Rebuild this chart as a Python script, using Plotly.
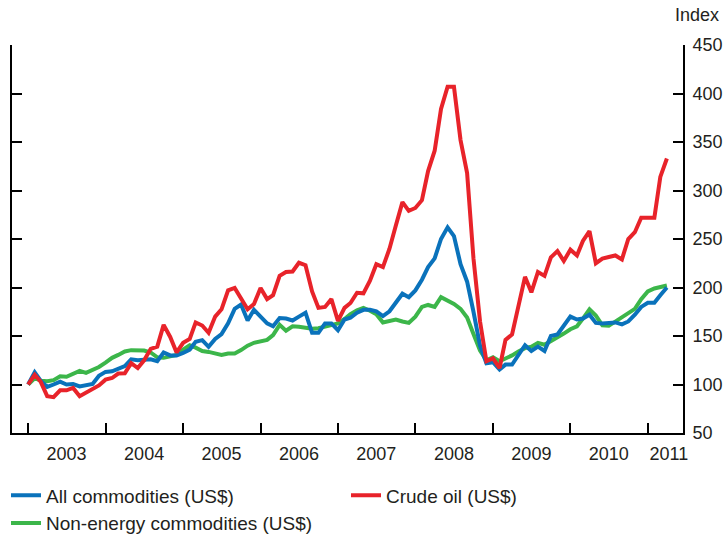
import plotly.graph_objects as go
import pandas as pd

# Monthly index, Jan 2003 = 100 (Jan 2003 .. Apr 2011)
months = pd.date_range("2003-01-01", periods=100, freq="MS")

all_commodities = [
    100, 112.6, 104, 97.5, 100, 103, 100, 100.5, 98, 99, 100.5, 109,
    113, 113.6, 116, 119, 126, 125, 125.5, 126, 124, 133, 130, 130,
    132.5, 136, 144, 145.7, 138.8, 147, 152, 163, 178, 182.5, 166, 177,
    170, 163, 160, 168.5, 168, 166, 170, 174, 153.3, 153.3, 163, 163,
    156, 167, 168.8, 174, 177, 177, 175.5, 170.5, 175.5, 185, 193.6, 190,
    197, 208, 221, 230, 250, 262, 253, 224, 206, 175, 140, 122,
    123, 115.4, 120.5, 120.5, 131, 140.5, 134.5, 139, 134.5, 150, 151.6, 161,
    170, 167, 168, 172, 163.5, 163, 164, 164, 162, 165, 172, 180,
    184.3, 184.3, 192, 200,
]

crude_oil = [
    100, 110, 103, 88, 87, 94, 94, 96.5, 88, 92, 95, 99,
    105, 106.7, 111.3, 111.5, 122, 117, 125, 136.8, 139, 161.5, 149, 133,
    143, 147, 164, 160.8, 153.3, 170, 177.5, 197, 199.5, 188, 177.5, 183,
    199.5, 188, 192, 212, 216, 216.5, 225.5, 223, 196, 179, 180, 188,
    165.5, 179, 184, 194.6, 194, 207, 224, 221, 240, 264, 288, 279,
    282, 290, 320, 341, 384, 407, 407, 352, 318, 230, 165, 124,
    127, 117, 146, 151.6, 182, 211, 195, 216, 212, 231, 237.6, 227.3,
    239, 233, 248, 258, 225, 229.8, 231.5, 233, 229, 250, 257, 272,
    272, 272, 314, 333,
]

non_energy = [
    100, 106.5, 104, 103.3, 104.5, 108.5, 108, 110.5, 114, 112, 114.5, 118,
    122.5, 127.5, 130.5, 134, 135.4, 135.4, 135, 133, 128, 127.5, 129, 130.5,
    136, 140.5, 138, 134.5, 133.6, 132, 130.5, 132, 132, 135.5, 140, 143,
    145, 146, 151, 161.5, 155.5, 160, 159.5, 158.5, 157.5, 158, 160, 161.5,
    163, 167.5, 172.5, 176.5, 179, 176, 172.5, 164, 165, 167, 165, 163.5,
    170, 180, 182, 180, 190, 187, 183, 178, 169, 152, 135, 125,
    128, 124, 126.5, 130, 134, 137.5, 139, 143, 141, 144.5, 148.5, 152.5,
    157, 160, 168, 177.5, 171, 161, 160.5, 165, 170, 174, 178, 188,
    196, 199, 200, 202,
]

years = [2003, 2004, 2005, 2006, 2007, 2008, 2009, 2010, 2011]
year_labels = [str(y) for y in years]
y_ticks = [50, 100, 150, 200, 250, 300, 350, 400, 450]

FONT = "Liberation Sans, Arial, Helvetica, sans-serif"
TXT = "#231f20"

# year boundaries for tick marks, labels centred in each year (2011 partial)
boundary_ticks = [f"{y}-01-01" for y in years]
label_pos = [f"{y}-07-01" for y in years[:-1]] + ["2011-04-10"]

fig = go.Figure()
# drawn bottom-to-top: green, blue, red
fig.add_trace(go.Scatter(x=months, y=non_energy, name="Non-energy commodities (US$)",
                         mode="lines", line=dict(color="#3cb64a", width=4),
                         legend="legend", legendrank=2))
fig.add_trace(go.Scatter(x=months, y=all_commodities, name="All commodities (US$)",
                         mode="lines", line=dict(color="#0a72bb", width=4),
                         legend="legend", legendrank=1))
fig.add_trace(go.Scatter(x=months, y=crude_oil, name="Crude oil (US$)",
                         mode="lines", line=dict(color="#e8232a", width=4),
                         legend="legend2"))

leg_common = dict(
    orientation="v", xref="container", xanchor="left",
    yref="paper", y=-0.112, yanchor="top",
    font=dict(family=FONT, size=19, color=TXT),
    itemwidth=30, bgcolor="rgba(0,0,0,0)", tracegroupgap=0,
)

fig.update_layout(
    width=723, height=536,
    margin=dict(l=12, r=40, t=45, b=103, autoexpand=False),
    paper_bgcolor="white", plot_bgcolor="white",
    font=dict(family=FONT, size=18, color=TXT),
    showlegend=True,
    legend=dict(x=6 / 723, **leg_common),
    legend2=dict(x=346 / 723, **leg_common),
    xaxis=dict(
        type="date",
        range=["2002-10-17", "2011-06-16"],
        showline=True, linecolor="black", linewidth=2,
        tickvals=label_pos, ticktext=year_labels, ticks="",
        tickfont=dict(size=18), ticklabelstandoff=3,
        showgrid=False, zeroline=False, automargin=False,
        minor=dict(tickvals=boundary_ticks, ticks="inside", ticklen=10,
                   tickwidth=2, tickcolor="black", showgrid=False),
    ),
    yaxis=dict(
        side="right", range=[50, 450],
        tickvals=y_ticks, ticks="inside", ticklen=10, tickwidth=2, tickcolor="black",
        showline=True, linecolor="black", linewidth=2, mirror="ticks",
        tickfont=dict(size=18), ticklabelstandoff=4, automargin=False,
        showgrid=False, zeroline=False,
    ),
    annotations=[dict(
        text="Index", xref="paper", yref="paper", x=1.057, y=1.077,
        xanchor="right", yanchor="middle", showarrow=False,
        font=dict(family=FONT, size=18, color=TXT),
    )],
)

fig.write_html("out.html", config={"displayModeBar": False},
               post_script="document.body.style.margin='0';")
